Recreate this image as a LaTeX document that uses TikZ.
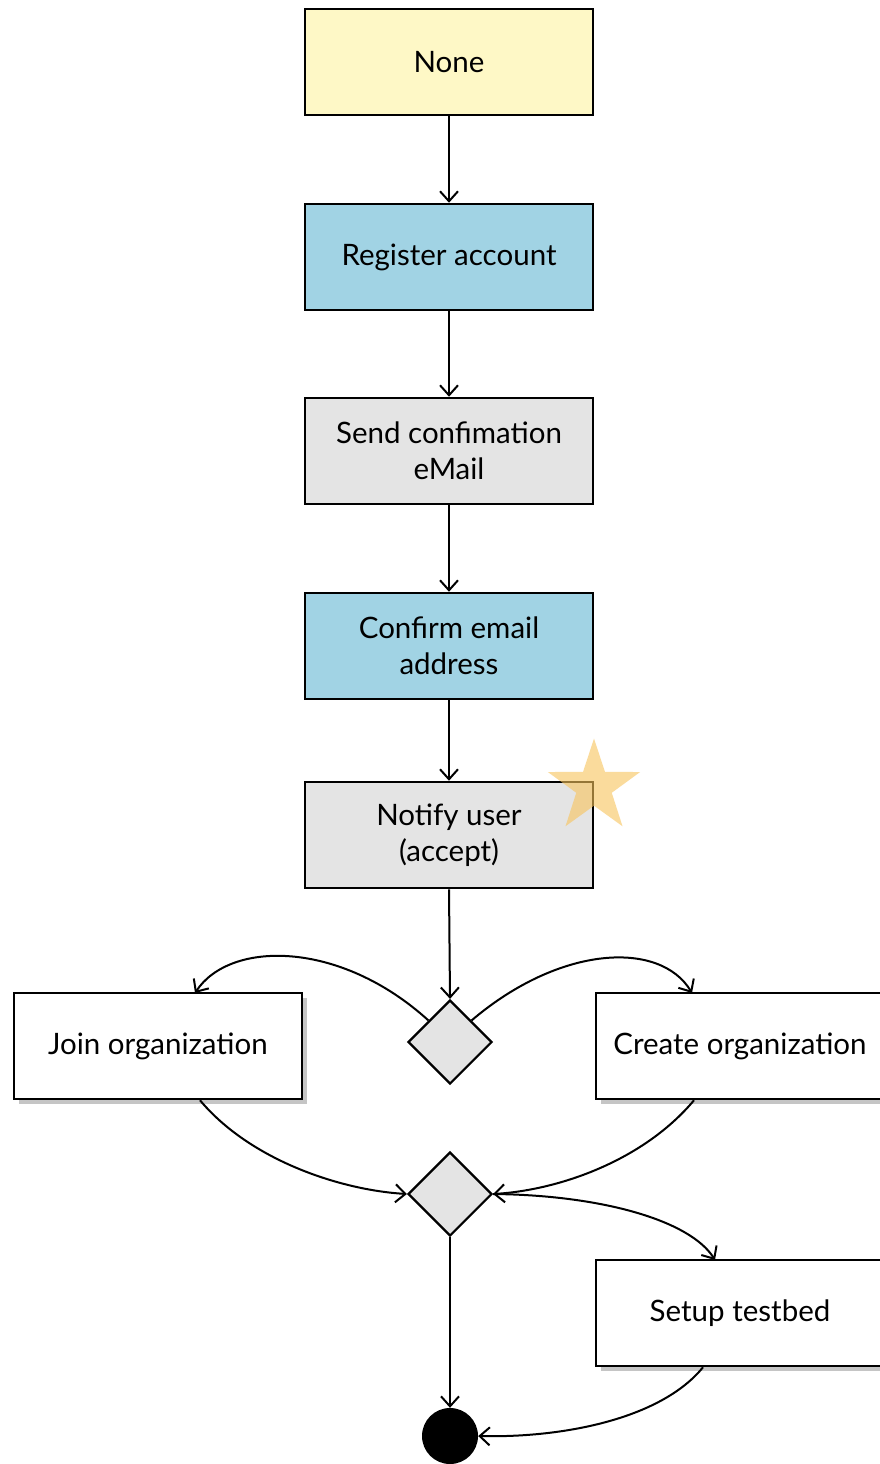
\documentclass[tikz,border=0pt]{standalone}
\usepackage{fontspec}
\setmainfont{Lato}
\usetikzlibrary{shapes.geometric,arrows.meta,shadows}
\definecolor{cyellow}{HTML}{FEF8C6}
\definecolor{cblue}{HTML}{A1D3E4}
\definecolor{cgray}{HTML}{E4E4E4}
\definecolor{cstar}{HTML}{F8C35A}
\tikzset{
  box/.style={draw=black, line width=2.5pt, minimum width=288pt, minimum height=106pt, inner sep=0pt, align=center, font=\fontsize{29.5}{36}\selectfont},
  sbox/.style={box, fill=white, drop shadow={shadow xshift=5pt, shadow yshift=-5pt, fill=black!45}},
  dec/.style={diamond, draw=black, line width=2.2pt, fill=cgray, minimum width=84pt, minimum height=84pt, inner sep=0pt},
  conn/.style={line width=2pt, -{Straight Barb[length=10pt,width=18pt,line width=2pt]}}
}
\begin{document}
\begin{tikzpicture}[x=1pt,y=-1pt]
\clip (0,0) rectangle (880,1464);
\fill[white] (0,0) rectangle (880,1464);
\node[box, fill=cyellow] (none) at (449,62) {None};
\node[box, fill=cblue] (reg) at (449,257) {Register account};
\node[box, fill=cgray] (send) at (449,451) {Send confimation\\eMail};
\node[box, fill=cblue] (conf) at (449,646) {Confirm email\\address};
\node[box, fill=cgray] (notify) at (449,835) {Notify user\\(accept)};
\node[star, star points=5, star point ratio=2.6, minimum size=97pt, inner sep=0pt, fill=cstar, fill opacity=0.6] (star) at (594,787) {};
\node[dec] (d1) at (450,1042) {};
\node[sbox] (join) at (158,1046) {Join organization};
\node[sbox] (create) at (740,1046) {Create organization};
\node[dec] (d2) at (450,1194) {};
\node[sbox] (setup) at (740,1313) {Setup testbed};
\node[circle, fill=black, minimum size=56pt, inner sep=0pt] (end) at (450,1436) {};
\coordinate (jointop) at (195,993);
\coordinate (createtop) at (692,993);
\coordinate (setuptop) at (715,1260);
\draw[conn] (none) -- (reg);
\draw[conn] (reg) -- (send);
\draw[conn] (send) -- (conf);
\draw[conn] (conf) -- (notify);
\draw[conn] (notify.south) -- (d1.north);
\draw[conn] (d1.north west) .. controls (340,940) and (230,940) .. (jointop);
\draw[conn] (d1.north east) .. controls (560,945) and (660,940) .. (createtop);
\draw[conn] (join.south -| 200,0) .. controls (250,1160) and (340,1190) .. (d2.west);
\draw[conn] (create.south -| 694,0) .. controls (644,1160) and (560,1190) .. (d2.east);
\draw[conn] (d2.east) .. controls (600,1195) and (690,1220) .. (setuptop);
\draw[conn] (d2.south) -- (end.north);
\draw[conn] (setup.south -| 703,0) .. controls (660,1420) and (560,1438) .. (end.east);
\end{tikzpicture}
\end{document}
